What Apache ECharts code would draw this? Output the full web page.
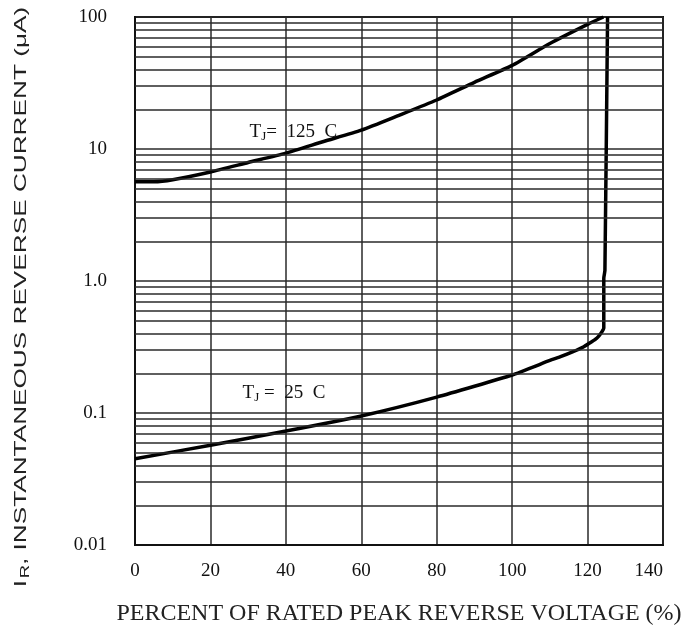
<!DOCTYPE html>
<html>
<head>
<meta charset="utf-8">
<script src="https://cdn.jsdelivr.net/npm/echarts@6/dist/echarts.min.js"></script>
<style>
  html, body { margin: 0; padding: 0; background: #fff; }
  #main { width: 685px; height: 632px; }
</style>
</head>
<body>
<div id="main"></div>
<script>
// percent of rated peak reverse voltage vs reverse current (uA)
const pct125 = [0, 5, 10, 20, 30, 40, 50, 60, 70, 80, 90, 100, 110, 120, 124.2];
const ir125 = [5.65, 5.65, 5.85, 6.7, 7.9, 9.3, 11.4, 13.9, 18, 23.5, 32, 43, 63, 88, 100];

const pct25 = [0, 20, 40, 60, 80, 100, 110, 113, 116, 119, 121, 122.5, 123.5, 124.3, 124.3, 124.6, 125.3];
const ir25 = [0.045, 0.057, 0.073, 0.095, 0.132, 0.194, 0.25, 0.268, 0.29, 0.318, 0.345, 0.37, 0.4, 0.44, 1.05, 1.2, 100];

const xTicks = [0, 20, 40, 60, 80, 100, 120, 140];
// log paper minor lines (2..9 in each decade)
const minorLines = [
  0.02, 0.03, 0.04, 0.05, 0.06, 0.07, 0.08, 0.09,
  0.2, 0.3, 0.4, 0.5, 0.6, 0.7, 0.8, 0.9,
  2, 3, 4, 5, 6, 7, 8, 9,
  20, 30, 40, 50, 60, 70, 80, 90
];

const chart = echarts.init(document.getElementById('main'));

const serif = 'Liberation Serif';
const gridColor = '#2a2a2a';

function zip(xs, ys) {
  return xs.map((x, i) => [x, ys[i]]);
}

chart.setOption({
  animation: false,
  grid: {
    left: 135,
    right: 22,
    top: 17,
    bottom: 87,
    show: true,
    borderColor: '#111',
    borderWidth: 2
  },
  xAxis: {
    type: 'value',
    min: 0,
    max: 140,
    interval: 20,
    axisLine: { show: true, lineStyle: { color: '#111', width: 2 } },
    axisTick: { show: false },
    splitLine: { show: true, lineStyle: { color: gridColor, width: 1.5 } },
    axisLabel: {
      color: '#111',
      fontFamily: serif,
      fontSize: 19,
      margin: 17,
      alignMaxLabel: 'right',
      formatter: v => xTicks.indexOf(v) >= 0 ? String(v) : ''
    }
  },
  yAxis: {
    type: 'log',
    logBase: 10,
    min: 0.01,
    max: 100,
    axisLine: { show: true, lineStyle: { color: '#111', width: 2 } },
    axisTick: { show: false },
    splitLine: { show: true, lineStyle: { color: gridColor, width: 1.5 } },
    axisLabel: {
      color: '#111',
      fontFamily: serif,
      fontSize: 19,
      margin: 28,
      formatter: v => (v === 1 ? '1.0' : String(v))
    }
  },
  graphic: [
    {
      type: 'text',
      x: 21,
      y: 297,
      rotation: Math.PI / 2,
      scaleX: 1.54,
      style: {
        text: '{m|I}{s|R}{m|, INSTANTANEOUS REVERSE CURRENT (\u03bcA)}',
        align: 'center',
        verticalAlign: 'middle',
        textAlign: 'center',
        textVerticalAlign: 'middle',
        fill: '#222',
        rich: {
          m: { fontFamily: 'Liberation Sans', fontSize: 17, fill: '#222' },
          s: { fontFamily: 'Liberation Sans', fontSize: 12, fill: '#222', verticalAlign: 'bottom', padding: [10, 0, 0, 1] }
        }
      }
    },
    {
      type: 'text',
      x: 399,
      y: 614,
      style: {
        text: 'PERCENT OF RATED PEAK REVERSE VOLTAGE (%)',
        align: 'center',
        verticalAlign: 'middle',
        textAlign: 'center',
        textVerticalAlign: 'middle',
        fill: '#222',
        font: '24px "Liberation Serif"'
      }
    }
  ],
  series: [
    {
      name: 'grid',
      type: 'line',
      data: [],
      markLine: {
        silent: true,
        symbol: ['none', 'none'],
        label: { show: false },
        lineStyle: { color: gridColor, width: 1.5, type: 'solid' },
        data: minorLines.map(v => ({ yAxis: v }))
      }
    },
    {
      name: 'TJ=125C',
      type: 'line',
      data: zip(pct125, ir125),
      smooth: 0.2,
      showSymbol: false,
      lineStyle: { color: '#000', width: 3.5 },
      markPoint: {
        symbol: 'circle',
        symbolSize: 0,
        data: [{ coord: [42, 13.5] }],
        label: {
          show: true,
          position: 'inside',
          formatter: '{m|T}{s|J}{m|=  125  C}',
          rich: {
            m: { fontFamily: serif, fontSize: 19, color: '#111' },
            s: { fontFamily: serif, fontSize: 13, color: '#111', verticalAlign: 'bottom', padding: [10, 0, 0, 0] }
          }
        }
      }
    },
    {
      name: 'TJ=25C',
      type: 'line',
      data: zip(pct25, ir25),
      smooth: 0.15,
      showSymbol: false,
      lineStyle: { color: '#000', width: 3.5 },
      markPoint: {
        symbol: 'circle',
        symbolSize: 0,
        data: [{ coord: [39.5, 0.142] }],
        label: {
          show: true,
          position: 'inside',
          formatter: '{m|T}{s|J}{m| =  25  C}',
          rich: {
            m: { fontFamily: serif, fontSize: 19, color: '#111' },
            s: { fontFamily: serif, fontSize: 13, color: '#111', verticalAlign: 'bottom', padding: [10, 0, 0, 0] }
          }
        }
      }
    }
  ]
});
</script>
</body>
</html>
